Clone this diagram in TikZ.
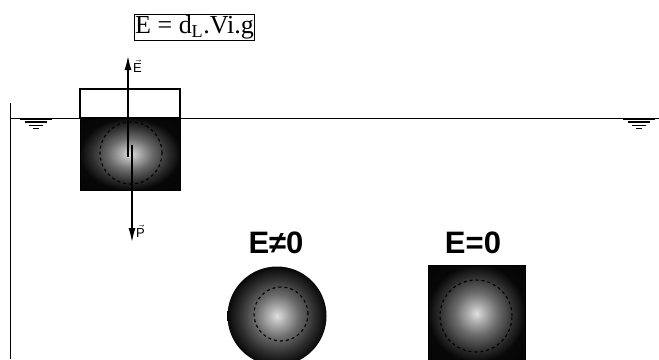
\documentclass[tikz,border=0pt]{standalone}
\usepackage{fontspec}
\setmainfont{Liberation Serif}
\setsansfont{Liberation Sans}
\usepackage{tikz}
\usetikzlibrary{arrows.meta, positioning}
\tikzstyle{force} = [line width=1.4pt, -{Latex[length=14pt, width=7pt]}]
\tikzstyle{repere} = [line width=1.8pt]
\pgfdeclareradialshading{sphere}{\pgfpoint{0bp}{0bp}}{%
  color(0bp)=(white!88!black); color(4bp)=(black!30); color(11bp)=(black!58);
  color(19bp)=(black!82); color(25bp)=(black!97); color(50bp)=(black)}

\begin{document}
\begin{tikzpicture}[
        x=1pt, y=-1pt,
        corps/.style={shading=sphere},
        contour/.style={dash pattern=on 3pt off 3pt, line width=1.1pt, black},
        titre/.style={font=\sffamily\bfseries\fontsize{31}{31}\selectfont, inner sep=0pt},
        vect/.style={font=\sffamily\fontsize{13}{13}\selectfont, inner sep=0pt}
        ]

        \useasboundingbox (0,0) rectangle (659,359);
        \clip (0,0) rectangle (659,359);

        % bac : paroi et surface libre
        \draw[line width=1pt] (10,103) -- (10,359);
        \draw[line width=1pt] (10,118) -- (659,118);
        \coordinate (niv_g) at (36,118);
        \coordinate (niv_d) at (639,118);
        \foreach \n in {niv_g, niv_d} {
            \draw[repere] ([xshift=-16,yshift=-1]\n) -- ([xshift=16,yshift=-1]\n);
            \draw[repere] ([xshift=-11,yshift=-4]\n) -- ([xshift=11,yshift=-4]\n);
            \draw[repere] ([xshift=-7,yshift=-7.5]\n) -- ([xshift=7,yshift=-7.5]\n);
            \draw[repere] ([xshift=-3,yshift=-10.5]\n) -- ([xshift=3,yshift=-10.5]\n);
        }

        % corps flottant
        \shade[corps] (80,118) rectangle (180,190);
        \draw[line width=1.6pt] (80,118) rectangle (180,89);
        \draw[line width=0.8pt] (80,118) rectangle (180,190);
        \node[circle, minimum size=62pt, contour, draw] (bulle) at (131,153) {};

        % poussee et poids
        \coordinate (e0) at (128,157);
        \coordinate (e1) at (128,56);
        \coordinate (p0) at (132,145);
        \coordinate (p1) at (132,242);
        \draw[force] (e0) -- (e1);
        \draw[force] (p0) -- (p1);
        \node[vect, anchor=west] (lE) at (133,66) {$\vec{\mathsf{E}}$};
        \node[vect, anchor=west] (lP) at (136,231) {$\vec{\mathsf{P}}$};

        \node[draw, line width=1pt, inner sep=1pt, font=\fontsize{26}{26}\selectfont] (formule) at (194.5,27.5) {E = d\textsubscript{L}.Vi.g};

        % corps immerges
        \node[titre] (neq) at (276,243) {E≠0};
        \shade[corps] (277,316) circle (49.5);
        \node[circle, minimum size=54pt, contour, draw] (b1) at (281,314) {};

        \node[titre] (eq) at (473,243) {E=0};
        \shade[corps] (428,265) rectangle (525,362);
        \draw[line width=0.6pt] (428,265) rectangle (525,362);
        \node[circle, minimum size=72pt, contour, draw] (b2) at (476,316) {};

    \end{tikzpicture}
\end{document}
